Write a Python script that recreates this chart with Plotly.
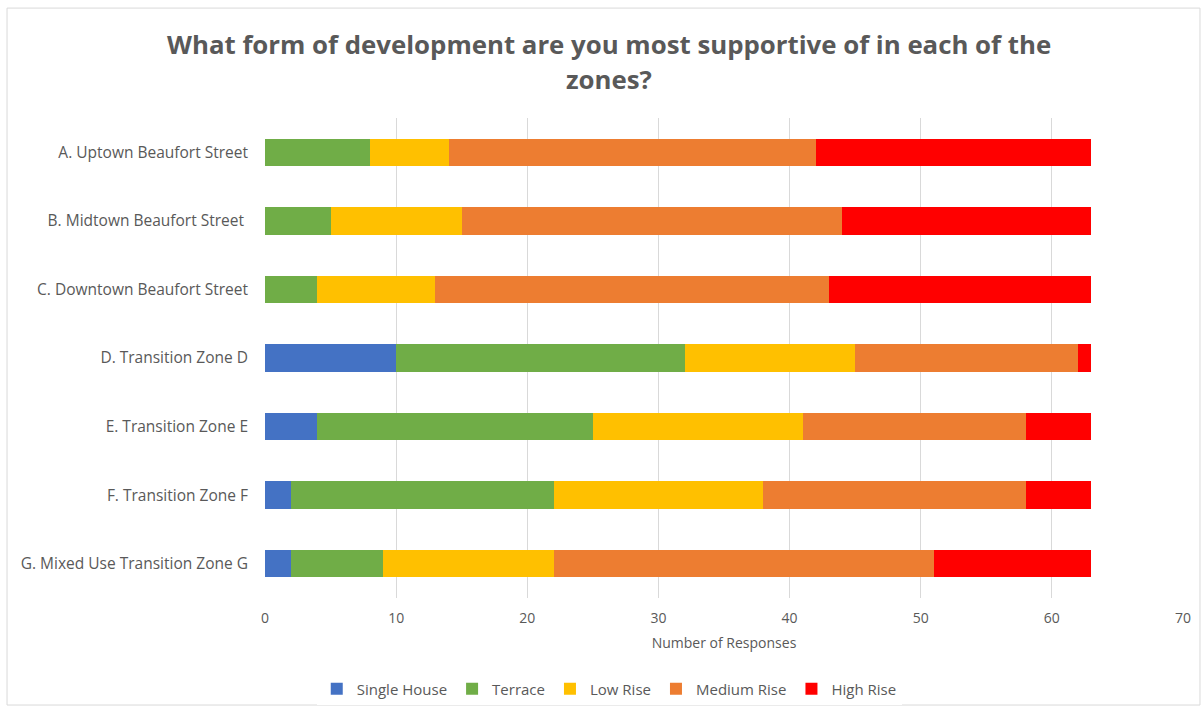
import plotly.graph_objects as go

zones = [
    "A. Uptown Beaufort Street",
    "B. Midtown Beaufort Street ",
    "C. Downtown Beaufort Street",
    "D. Transition Zone D",
    "E. Transition Zone E",
    "F. Transition Zone F",
    "G. Mixed Use Transition Zone G",
]
single_house = [0, 0, 0, 10, 4, 2, 2]
terrace = [8, 5, 4, 22, 21, 20, 7]
low_rise = [6, 10, 9, 13, 16, 16, 13]
medium_rise = [28, 29, 30, 17, 17, 20, 29]
high_rise = [21, 19, 20, 1, 5, 5, 12]

series = [
    ("Single House", single_house, "#4472C4"),
    ("Terrace", terrace, "#70AD47"),
    ("Low Rise", low_rise, "#FFC000"),
    ("Medium Rise", medium_rise, "#ED7D31"),
    ("High Rise", high_rise, "#FF0000"),
]

FONT = "Open Sans"
GREY = "#595959"

fig = go.Figure()
for name, vals, color in series:
    fig.add_trace(go.Bar(
        y=zones, x=vals, name=name, orientation="h",
        marker=dict(color=color, line=dict(width=0)),
        width=0.4,
    ))

title_lines = [
    "What form of development are you most supportive of in each of the",
    "zones?",
]
annotations = []
for i, line in enumerate(title_lines):
    annotations.append(dict(
        text=line, xref="paper", yref="paper",
        x=0.375, xanchor="center",
        y=(598 - 44 - 35 * i) / 480, yanchor="middle",
        showarrow=False,
        font=dict(family=FONT, size=25.8, color=GREY, weight="bold"),
    ))

fig.update_layout(
    barmode="stack",
    width=1203, height=711,
    paper_bgcolor="white", plot_bgcolor="white",
    margin=dict(l=265, r=20, t=118, b=113, autoexpand=False),
    font=dict(family=FONT, size=14, color=GREY),
    annotations=annotations,
    xaxis=dict(
        range=[0, 70], dtick=10, showgrid=True, gridcolor="#D9D9D9", gridwidth=1,
        zeroline=False, showline=False, ticks="", automargin=False,
        tickfont=dict(family=FONT, size=14, color=GREY),
        ticklabelstandoff=10,
        title=dict(text="Number of Responses", font=dict(family=FONT, size=14, color=GREY), standoff=12),
    ),
    yaxis=dict(
        categoryorder="array", categoryarray=zones[::-1],
        showgrid=False, zeroline=False, showline=False, ticks="", automargin=False,
        tickfont=dict(family=FONT, size=15.5, color=GREY),
        ticklabelstandoff=16,
    ),
    legend=dict(
        orientation="h", x=0.375, xanchor="center", y=-0.155, yanchor="top",
        font=dict(family=FONT, size=15, color=GREY),
        traceorder="normal",
    ),
    shapes=[dict(
        type="rect", xref="paper", yref="paper",
        x0=-0.281, x1=1.0185, y0=-0.223, y1=1.229,
        line=dict(color="#D9D9D9", width=1), layer="below",
    )],
)

fig.write_html("out.html")
